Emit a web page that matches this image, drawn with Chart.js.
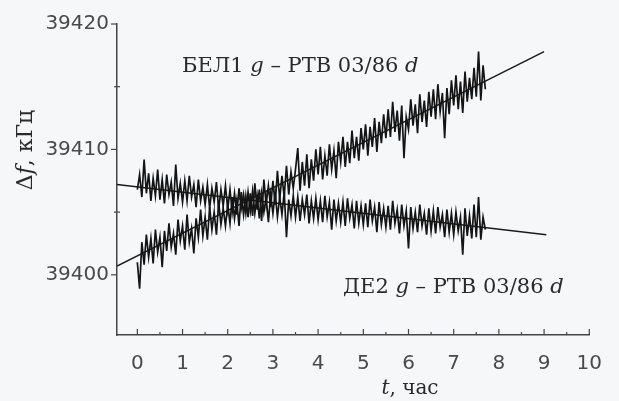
<!DOCTYPE html>
<html>
<head>
<meta charset="utf-8">
<script src="https://cdn.jsdelivr.net/npm/chart.js@4.4.1/dist/chart.umd.min.js"></script>
<style>
  html, body { margin: 0; padding: 0; background: #f6f7f9; }
  #wrap { width: 619px; height: 401px; }
</style>
</head>
<body>
<div id="wrap"><canvas id="c" width="619" height="401"></canvas></div>
<script>
// recordings are sampled every 0.05 h starting at t = 0
const T_STEP = 0.05;

// БЕЛ1 g - PTB 03/86 d, kHz
const bel1 = [
  39401.0, 39398.9, 39402.6, 39400.8, 39403.2, 39401.4, 39402.9, 39400.9, 39403.6, 39401.8,
  39403.0, 39400.6, 39403.5, 39401.9, 39404.1, 39402.2, 39403.3, 39401.6, 39404.4, 39402.7,
  39403.9, 39402.0, 39404.8, 39402.6, 39403.7, 39401.7, 39404.5, 39403.0, 39405.2, 39403.1,
  39404.6, 39402.8, 39405.4, 39403.6, 39405.0, 39403.2, 39405.8, 39404.0, 39405.3, 39403.9,
  39405.6, 39404.1, 39406.2, 39404.5, 39405.9, 39403.9, 39406.6, 39404.8, 39406.3, 39404.6,
  39406.5, 39404.7, 39407.3, 39405.2, 39406.8, 39404.3, 39407.6, 39405.6, 39407.1, 39405.4,
  39407.5, 39405.6, 39408.3, 39406.0, 39407.9, 39406.2, 39408.7, 39406.4, 39408.2, 39406.9,
  39408.4, 39410.1, 39406.7, 39409.0, 39407.1, 39409.6, 39406.9, 39409.2, 39407.5, 39410.0,
  39408.0, 39410.2, 39407.6, 39409.5, 39407.9, 39410.4, 39408.4, 39409.9, 39407.7, 39410.6,
  39409.0, 39411.0, 39408.6, 39410.6, 39408.9, 39411.5, 39409.3, 39411.0, 39409.1, 39411.7,
  39410.0, 39412.0, 39409.5, 39411.8, 39410.2, 39412.5, 39409.8, 39412.2, 39410.5, 39412.8,
  39410.9, 39413.2, 39411.0, 39413.8, 39411.4, 39413.1, 39410.7, 39413.5, 39409.3, 39412.6,
  39411.6, 39414.0, 39411.9, 39413.6, 39411.3, 39414.4, 39412.2, 39413.9, 39411.8, 39414.6,
  39412.6, 39414.8, 39412.4, 39415.2, 39413.0, 39414.5, 39410.9, 39414.9, 39412.8, 39415.5,
  39413.5, 39415.9, 39413.2, 39415.4, 39412.9, 39416.2, 39413.8, 39415.7, 39414.0, 39416.5,
  39414.2, 39417.8, 39413.9, 39416.7, 39414.8
];

// ДЕ2 g - PTB 03/86 d, kHz
const de2 = [
  39406.8, 39408.0, 39406.2, 39409.2, 39406.5, 39408.1, 39405.9, 39407.7, 39406.3, 39408.4,
  39406.0, 39407.6, 39405.7, 39408.0, 39406.4, 39407.4, 39405.5, 39408.8, 39406.1, 39407.3,
  39405.8, 39407.5, 39405.9, 39407.9, 39406.2, 39407.2, 39405.4, 39407.6, 39405.9, 39407.0,
  39405.6, 39407.2, 39405.3, 39406.9, 39405.8, 39407.4, 39405.2, 39406.8, 39405.5, 39407.1,
  39405.2, 39406.8, 39405.0, 39406.5, 39404.8, 39406.9, 39405.3, 39406.4, 39404.9, 39406.6,
  39405.1, 39406.7, 39404.9, 39406.3, 39404.5, 39406.5, 39405.0, 39406.2, 39404.2, 39406.4,
  39404.9, 39406.5, 39404.6, 39406.2, 39404.8, 39406.6, 39403.0, 39406.0, 39404.7, 39406.3,
  39404.6, 39406.2, 39404.3, 39406.0, 39404.8, 39406.4, 39404.1, 39405.9, 39404.5, 39406.1,
  39404.4, 39405.9, 39404.2, 39406.3, 39404.6, 39405.8, 39403.6, 39406.0, 39404.3, 39405.7,
  39404.2, 39405.8, 39403.9, 39406.1, 39404.5, 39405.6, 39403.7, 39405.9, 39404.1, 39405.5,
  39404.0, 39405.7, 39403.8, 39406.0, 39404.3, 39405.4, 39403.4, 39405.8, 39404.0, 39405.3,
  39403.8, 39405.5, 39403.6, 39405.9, 39404.1, 39405.2, 39403.3, 39405.6, 39403.9, 39405.1,
  39402.1, 39405.4, 39403.7, 39405.0, 39403.4, 39405.6, 39403.9, 39404.9, 39403.2, 39405.3,
  39403.5, 39405.1, 39403.3, 39405.4, 39403.8, 39404.8, 39403.0, 39405.2, 39403.4, 39404.9,
  39403.2, 39405.0, 39403.5, 39404.6, 39401.6, 39405.3, 39403.1, 39404.7, 39402.9, 39405.6,
  39403.0, 39406.2, 39402.8, 39404.6, 39403.6
];

// linear fits (end points), kHz
const bel1Fit = [{ x: -0.45, y: 39400.7 }, { x: 9.0, y: 39417.8 }];
const de2Fit = [{ x: -0.45, y: 39407.2 }, { x: 9.05, y: 39403.2 }];

const xTicks = [0, 1, 2, 3, 4, 5, 6, 7, 8, 9, 10];
const xMinor = [0.5, 1.5, 2.5, 3.5, 4.5, 5.5, 6.5, 7.5, 8.5, 9.5];
const yTicks = [39400, 39410, 39420];
const yMinor = [39405, 39415];

const INK = '#141414';
const AXIS = '#454545';
const SERIF = '"DejaVu Serif", "Liberation Serif", serif';
const SANS = '"DejaVu Sans", "Liberation Sans", sans-serif';

const toPoints = arr => arr.map((v, i) => ({ x: +(i * T_STEP).toFixed(2), y: v }));

// small ticks: inward on the time axis, outward on the frequency axis
const tickMarks = {
  id: 'tickMarks',
  afterDraw(chart) {
    const { ctx, scales: { x, y } } = chart;
    const seg = (x1, y1, x2, y2) => { ctx.beginPath(); ctx.moveTo(x1, y1); ctx.lineTo(x2, y2); ctx.stroke(); };
    ctx.save();
    ctx.strokeStyle = AXIS;
    ctx.lineWidth = 1.2;
    xTicks.forEach(v => { const p = x.getPixelForValue(v); seg(p, y.bottom, p, y.bottom - 6); });
    xMinor.forEach(v => { const p = x.getPixelForValue(v); seg(p, y.bottom, p, y.bottom - 3); });
    yTicks.forEach(v => { const p = y.getPixelForValue(v); seg(x.left - 6, p, x.left, p); });
    yMinor.forEach(v => { const p = y.getPixelForValue(v); seg(x.left - 3, p, x.left + 3, p); });
    ctx.restore();
  }
};

// text with italic pieces (g, d, f, t)
function richText(ctx, parts, x, y, size, align) {
  const fonts = parts.map(p => (p[1] ? 'italic ' : '') + size + 'px ' + SERIF);
  let total = 0;
  parts.forEach((p, i) => { ctx.font = fonts[i]; total += ctx.measureText(p[0]).width; });
  let cx = align === 'center' ? x - total / 2 : x;
  ctx.textBaseline = 'middle';
  ctx.textAlign = 'left';
  parts.forEach((p, i) => {
    ctx.font = fonts[i];
    ctx.fillText(p[0], cx, y);
    cx += ctx.measureText(p[0]).width;
  });
}

const annotations = {
  id: 'annotations',
  afterDraw(chart) {
    const { ctx } = chart;
    ctx.save();
    ctx.fillStyle = '#2a2a2a';
    richText(ctx, [['БЕЛ1 ', false], ['g', true], [' – PTB 03/86 ', false], ['d', true]], 182, 67, 21, 'left');
    richText(ctx, [['ДЕ2 ', false], ['g', true], [' – PTB 03/86 ', false], ['d', true]], 343, 288, 21, 'left');
    richText(ctx, [['t', true], [', час', false]], 410, 389, 20, 'center');
    ctx.translate(26, 150);
    ctx.rotate(-Math.PI / 2);
    richText(ctx, [['Δ', false], ['f', true], [', кГц', false]], 0, 0, 22, 'center');
    ctx.restore();
  }
};

const paper = {
  id: 'paper',
  beforeDraw(chart) {
    const { ctx, width, height } = chart;
    ctx.save();
    ctx.fillStyle = '#f6f7f9';
    ctx.fillRect(0, 0, width, height);
    ctx.restore();
  }
};

const traceStyle = { borderColor: INK, borderWidth: 1.7, pointRadius: 0, tension: 0, fill: false };
const fitStyle = { borderColor: '#1a1a1a', borderWidth: 1.5, pointRadius: 0, tension: 0, fill: false };

new Chart(document.getElementById('c'), {
  type: 'line',
  data: {
    datasets: [
      { label: 'БЕЛ1 g – PTB 03/86 d', data: toPoints(bel1), ...traceStyle },
      { label: 'ДЕ2 g – PTB 03/86 d', data: toPoints(de2), ...traceStyle },
      { label: 'fit БЕЛ1', data: bel1Fit, ...fitStyle },
      { label: 'fit ДЕ2', data: de2Fit, ...fitStyle }
    ]
  },
  options: {
    responsive: false,
    animation: false,
    layout: { padding: { top: 24, right: 18, left: 0, bottom: 0 } },
    plugins: { legend: { display: false }, tooltip: { enabled: false } },
    scales: {
      x: {
        type: 'linear',
        min: -0.45,
        max: 10,
        afterBuildTicks: s => { s.ticks = xTicks.map(v => ({ value: v })); },
        afterFit: s => { s.height = 66; },
        grid: { display: false, drawTicks: false },
        border: { display: true, color: AXIS, width: 1.5 },
        ticks: {
          padding: 17,
          color: '#4a4a4a',
          font: { family: SANS, size: 20 },
          maxRotation: 0
        }
      },
      y: {
        type: 'linear',
        min: 39395.2,
        max: 39420,
        afterBuildTicks: s => { s.ticks = yTicks.map(v => ({ value: v })); },
        afterFit: s => { s.width = 117; },
        grid: { display: false, drawTicks: false },
        border: { display: true, color: AXIS, width: 1.5 },
        ticks: {
          padding: 8,
          color: '#4a4a4a',
          font: { family: SANS, size: 20 },
          callback: v => String(v)
        }
      }
    }
  },
  plugins: [paper, tickMarks, annotations]
});
</script>
</body>
</html>
